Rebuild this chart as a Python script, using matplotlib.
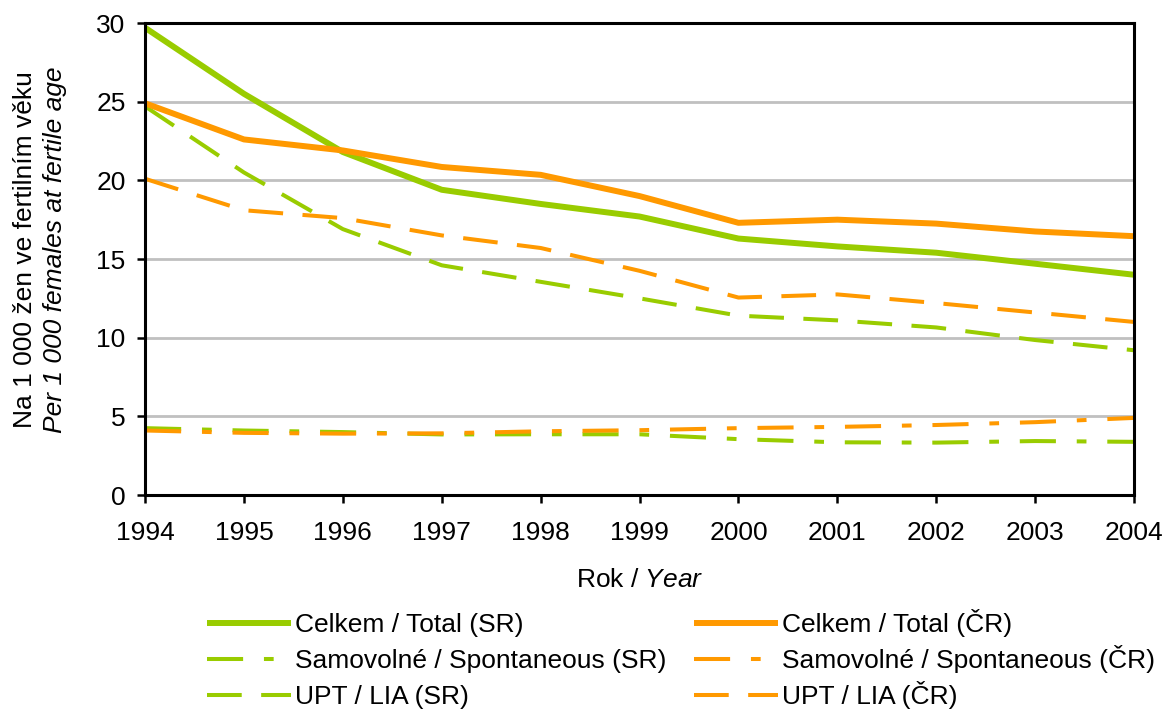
import matplotlib
matplotlib.use('Agg')
import matplotlib.pyplot as plt

plt.rcParams['font.family'] = ['Liberation Sans', 'DejaVu Sans']
plt.rcParams['mathtext.fontset'] = 'custom'
plt.rcParams['mathtext.rm'] = 'Liberation Sans'
plt.rcParams['mathtext.it'] = 'Liberation Sans:italic'
plt.rcParams['lines.scale_dashes'] = False

years = [1994, 1995, 1996, 1997, 1998, 1999, 2000, 2001, 2002, 2003, 2004]

total_sr = [29.7, 25.5, 21.8, 19.4, 18.5, 17.7, 16.3, 15.8, 15.4, 14.7, 14.0]
total_cr = [24.9, 22.6, 21.9, 20.85, 20.35, 19.0, 17.3, 17.5, 17.25, 16.75, 16.45]
spont_sr = [4.25, 4.1, 4.0, 3.85, 3.86, 3.86, 3.55, 3.35, 3.33, 3.43, 3.38]
spont_cr = [4.1, 3.95, 3.9, 3.92, 4.05, 4.12, 4.25, 4.33, 4.45, 4.63, 4.9]
upt_sr = [24.7, 20.5, 16.9, 14.6, 13.55, 12.5, 11.4, 11.1, 10.65, 9.85, 9.2]
upt_cr = [20.1, 18.1, 17.6, 16.5, 15.7, 14.25, 12.55, 12.75, 12.2, 11.6, 11.0]

green = '#99CC00'
orange = '#FF9900'
fs = 19

fig = plt.figure(figsize=(11.66, 7.10), dpi=100)
ax = fig.add_axes([0.1244, 0.3028, 0.8482, 0.6648])

ax.yaxis.grid(True, color='#C0C0C0', linewidth=2)
ax.set_axisbelow(True)

lines = []
lines += ax.plot(years, total_sr, color=green, lw=4.3, label='Celkem / Total (SR)', solid_capstyle='butt')
lines += ax.plot(years, spont_sr, color=green, lw=2.9, dashes=(26, 15, 7, 15), label='Samovolné / Spontaneous (SR)')
lines += ax.plot(years, upt_sr, color=green, lw=2.9, dashes=(25, 14), label='UPT / LIA (SR)')
lines += ax.plot(years, total_cr, color=orange, lw=4.3, label='Celkem / Total (ČR)', solid_capstyle='butt')
lines += ax.plot(years, spont_cr, color=orange, lw=2.9, dashes=(26, 15, 7, 15), label='Samovolné / Spontaneous (ČR)')
lines += ax.plot(years, upt_cr, color=orange, lw=2.9, dashes=(25, 14), label='UPT / LIA (ČR)')

ax.set_xlim(1994, 2004)
ax.set_ylim(0, 30)
ax.set_xticks(years)
ax.set_yticks([0, 5, 10, 15, 20, 25, 30])
ax.tick_params(axis='both', direction='out', length=6, width=1.8, labelsize=fs, colors='black')
ax.tick_params(axis='x', pad=13)
ax.tick_params(axis='y', pad=8)
for s in ax.spines.values():
    s.set_linewidth(2.2)
    s.set_color('black')

ax.set_xlabel('Rok / $\\mathit{Year}$', fontsize=fs, labelpad=16)

fig.text(25 / 1166, 1 - 250 / 710, 'Na 1 000 žen ve fertilním věku', rotation=90,
         ha='center', va='center', fontsize=fs)
fig.text(55 / 1166, 1 - 250 / 710, 'Per 1 000 females at fertile age', rotation=90,
         ha='center', va='center', fontsize=fs, style='italic')

# one legend per entry so the rows of both columns line up
col_x = [207, 694]
col_dy = [0, -2]  # the caron in ČR makes the text box taller
row_y = [625, 661, 697]
for i, ln in enumerate(lines):
    c, r = i // 3, i % 3
    fig.legend(handles=[ln], labels=[ln.get_label()], loc='center left',
               bbox_to_anchor=(col_x[c] / 1166, 1 - (row_y[r] + col_dy[c]) / 710),
               frameon=False, fontsize=fs, handlelength=3.2, handletextpad=0.15,
               borderpad=0, borderaxespad=0)

fig.savefig('out.png', dpi=100)
